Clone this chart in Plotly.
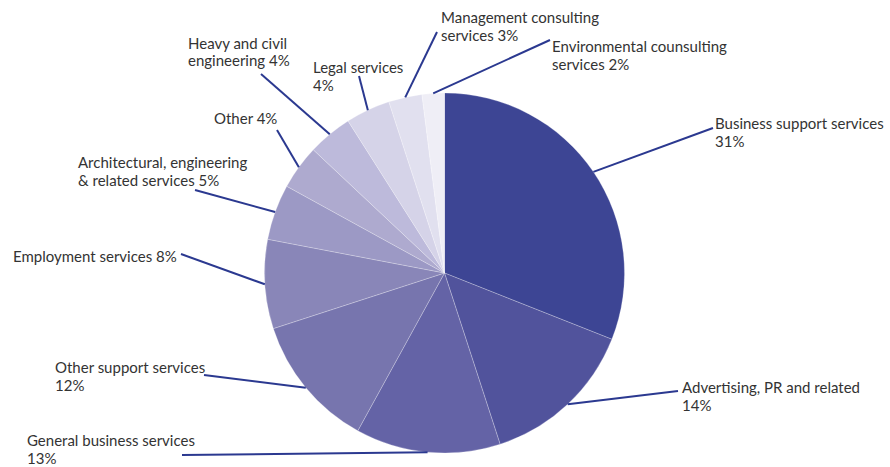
import math
import plotly.graph_objects as go

# ---- data ----
categories = [
    "Business support services",
    "Advertising, PR and related",
    "General business services",
    "Other support services",
    "Employment services",
    "Architectural, engineering & related services",
    "Other",
    "Heavy and civil engineering",
    "Legal services",
    "Management consulting services",
    "Environmental counsulting services",
]
shares = [31, 14, 13, 12, 8, 5, 4, 4, 4, 3, 2]

# label texts as shown (line breaks as in the reference)
label_texts = [
    "Business support services<br>31%",
    "Advertising, PR and related<br>14%",
    "General business services<br>13%",
    "Other support services<br>12%",
    "Employment services 8%",
    "Architectural, engineering<br>& related services 5%",
    "Other 4%",
    "Heavy and civil<br>engineering 4%",
    "Legal services<br>4%",
    "Management consulting<br>services 3%",
    "Environmental counsulting<br>services 2%",
]

colors = ["#3d4594", "#51539c", "#6463a6", "#7775ae", "#8986b8", "#9c99c5",
          "#aeaacf", "#bdbadb", "#d5d3e8", "#e1e0ef", "#efeef6"]

# ---- layout (pixels in a 890x467 canvas) ----
W, H = 890, 467
CX, CY, R = 444.5, 273.0, 180.0
LINE_GAP = 17.5
# text position (left x, first-line centre y) and leader-line end point
label_pos = [(714, 123), (681, 387), (26, 440), (54, 367), (12, 256), (77, 162),
             (213, 118), (187, 43), (312, 67), (440, 17), (551, 46)]
line_end = [(713, 128), (678, 391), (182, 455), (204, 375), (181, 254), (195, 190),
            (277, 130), (261, 74), (359, 76), (437, 32), (550, 40)]

fig = go.Figure()
fig.add_trace(go.Pie(
    labels=categories, values=shares, sort=False, direction="clockwise",
    rotation=0, textinfo="none", hoverinfo="label+percent",
    marker=dict(colors=colors, line=dict(color="rgba(255,255,255,0.35)", width=0.7)),
    domain=dict(x=[(CX - R) / W, (CX + R) / W], y=[(H - CY - R) / H, (H - CY + R) / H]),
    showlegend=False,
))


def px(x, y):
    return x / W, 1 - y / H


total = sum(shares)
cum = 0
shapes, annots = [], []
for i, v in enumerate(shares):
    mid = (cum + v / 2) / total * 2 * math.pi
    cum += v
    sx = CX + R * math.sin(mid)
    sy = CY - R * math.cos(mid)
    x0, y0 = px(sx, sy)
    x1, y1 = px(*line_end[i])
    shapes.append(dict(type="line", xref="paper", yref="paper", x0=x0, y0=y0, x1=x1, y1=y1,
                       line=dict(color="#2b3990", width=2)))
    lx, ly = label_pos[i]
    for j, part in enumerate(label_texts[i].split("<br>")):
        ax, ay = px(lx - 1, ly + j * LINE_GAP)
        annots.append(dict(text=part, xref="paper", yref="paper", x=ax, y=ay,
                           xanchor="left", yanchor="middle", align="left", showarrow=False,
                           font=dict(family="Lato", size=15, color="#333333", weight=400)))

fig.update_layout(
    width=W, height=H, margin=dict(l=0, r=0, t=0, b=0),
    paper_bgcolor="white", plot_bgcolor="white",
    shapes=shapes, annotations=annots,
)

fig.write_html("out.html", config={"displayModeBar": False},
               post_script="document.body.style.margin='0';")
